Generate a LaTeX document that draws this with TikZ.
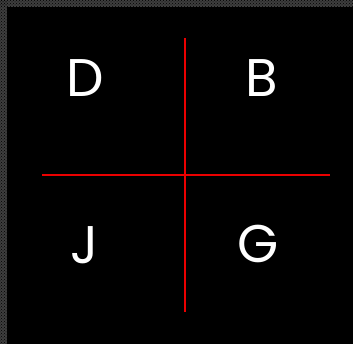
\documentclass[tikz,border=0pt]{standalone}
\usepackage{fontspec}
\setmainfont{Poppins}
\usepackage{xcolor}
\usepackage{tikz}
\usetikzlibrary{patterns}

\definecolor{edgegray}{RGB}{62,62,62}
\definecolor{axisred}{RGB}{235,0,0}

\begin{document}
\begin{tikzpicture}[
    x=1pt, y=-1pt,
    every node/.style={font=\fontsize{53}{53}\selectfont, text=white, align=center, inner sep=0pt},
    axis/.style={draw=axisred, line width=1.8pt}
]

% Background
\fill[black] (0,0) rectangle (353,344);
\useasboundingbox (0,0) rectangle (353,344);
\fill[edgegray] (0,0) rectangle (353,7);
\fill[edgegray] (0,0) rectangle (7,344);
\fill[pattern=crosshatch dots, pattern color=black] (0,0) rectangle (353,7);
\fill[pattern=crosshatch dots, pattern color=black] (0,0) rectangle (7,344);

% Axes
\coordinate (left) at (42,175);
\coordinate (right) at (330,175);
\coordinate (top) at (185,38);
\coordinate (bottom) at (185,312);
\draw[axis] (left) -- (right);
\draw[axis] (top) -- (bottom);

% Quadrant letters
\node (d) at (85,78) {D};
\node (b) at (262,78) {B};
\node (j) at (85,245) {J};
\node (g) at (258,244) {G};

\end{tikzpicture}
\end{document}
